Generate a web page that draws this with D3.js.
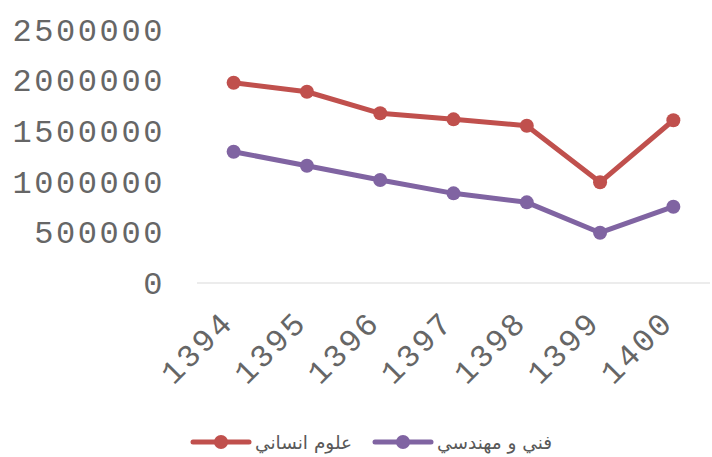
<!DOCTYPE html>
<html>
<head>
<meta charset="utf-8">
<script src="https://cdn.jsdelivr.net/npm/d3@7"></script>
<style>
  body { margin: 0; background: #fff; }
  .tick text { font-family: "Liberation Mono", monospace; fill: #666666; }
</style>
</head>
<body>
<svg width="712" height="457"></svg>
<script>
// chart data
const years = ["1394", "1395", "1396", "1397", "1398", "1399", "1400"];
const humanities = [1979000, 1890000, 1677000, 1617000, 1554000, 995000, 1608000];
const engineering = [1297000, 1159000, 1018000, 886000, 797000, 497000, 754000];
const seriesNames = ["علوم انساني", "فني و مهندسي"];
const yTicks = [0, 500000, 1000000, 1500000, 2000000, 2500000];

const colors = ["#C0504D", "#8064A2"];

const svg = d3.select("svg");

// plot area
const plotLeft = 197, plotRight = 710, plotTop = 30, plotBottom = 283;

const x = d3.scalePoint().domain(years).range([plotLeft, plotRight]).padding(0.5);
const y = d3.scaleLinear().domain([0, 2500000]).range([plotBottom, plotTop]);

// baseline at zero
svg.append("line")
    .attr("x1", plotLeft).attr("x2", plotRight)
    .attr("y1", y(0)).attr("y2", y(0))
    .attr("stroke", "#d9d9d9").attr("stroke-width", 1);

// y axis labels
const yAxis = svg.append("g")
    .attr("transform", "translate(" + plotLeft + ",0)")
    .call(d3.axisLeft(y).tickValues(yTicks).tickSize(0).tickPadding(32).tickFormat(d3.format("d")));
yAxis.select(".domain").remove();
yAxis.selectAll("text").style("font-size", "32px").style("letter-spacing", "2.6px");

// x axis labels, rotated
const xAxis = svg.append("g")
    .attr("transform", "translate(0," + plotBottom + ")")
    .call(d3.axisBottom(x).tickSize(0).tickPadding(0));
xAxis.select(".domain").remove();
xAxis.selectAll("text")
    .style("font-size", "32px").style("letter-spacing", "2.6px")
    .attr("text-anchor", "end")
    .attr("dy", null)
    .attr("transform", "translate(1,41) rotate(-45)");

// lines and markers
const data = [humanities, engineering];
const line = d3.line().x((d, i) => x(years[i])).y(d => y(d));

data.forEach((vals, k) => {
    svg.append("path")
        .datum(vals)
        .attr("d", line)
        .attr("fill", "none")
        .attr("stroke", colors[k])
        .attr("stroke-width", 5)
        .attr("stroke-linejoin", "round");
    svg.selectAll(".dot" + k)
        .data(vals)
        .enter().append("circle")
        .attr("class", "dot" + k)
        .attr("cx", (d, i) => x(years[i]))
        .attr("cy", d => y(d))
        .attr("r", 7)
        .attr("fill", colors[k]);
});

// legend
const legendX = [193, 375];
const legend = svg.append("g");
seriesNames.forEach((name, k) => {
    const g = legend.append("g").attr("transform", "translate(" + legendX[k] + ",442)");
    g.append("line").attr("x1", 0).attr("x2", 56)
        .attr("stroke", colors[k]).attr("stroke-width", 5).attr("stroke-linecap", "round");
    g.append("circle").attr("cx", 28).attr("r", 7).attr("fill", colors[k]);
    g.append("text")
        .attr("x", 62).attr("y", 7)
        .attr("direction", "rtl")
        .attr("text-anchor", "end")
        .style("font-family", "'DejaVu Sans', sans-serif")
        .style("font-size", "18.5px")
        .attr("fill", "#595959")
        .text(name);
});
</script>
</body>
</html>
